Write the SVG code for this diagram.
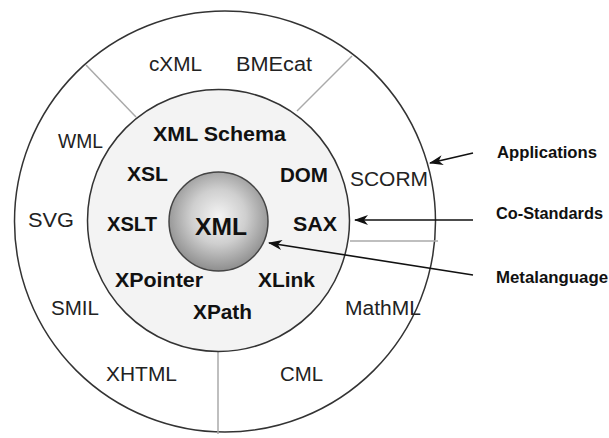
<svg xmlns="http://www.w3.org/2000/svg" width="609" height="438" viewBox="0 0 609 438">
  <style>
    .ring { stroke: #333; stroke-width: 1.5; }
    .div { stroke: #aaa; stroke-width: 1.5; fill: none; }
    .arr { stroke: #111; stroke-width: 1.6; fill: none; marker-end: url(#ah); }
    .reg { font-family: "Liberation Sans", Arial, sans-serif; font-size: 20px; fill: #222; }
    .bold { font-family: "Liberation Sans", Arial, sans-serif; font-size: 20px; font-weight: bold; fill: #111; }
    .lbl { font-family: "Liberation Sans", Arial, sans-serif; font-size: 16px; font-weight: bold; fill: #111; }
  </style>
  <defs>
    <radialGradient id="core" cx="50%" cy="45%" r="55%">
      <stop offset="0" stop-color="#f4f4f4"/>
      <stop offset="0.5" stop-color="#cfcfcf"/>
      <stop offset="1" stop-color="#8e8e8e"/>
    </radialGradient>
    <marker id="ah" viewBox="0 0 14 10" refX="13" refY="5" markerWidth="14" markerHeight="10" markerUnits="userSpaceOnUse" orient="auto">
      <path d="M0,0 L14,5 L0,10 L4,5 z" fill="#111"/>
    </marker>
  </defs>
  <rect width="609" height="438" fill="#fff"/>

  <g id="applications-ring">
    <circle class="ring" cx="225" cy="221.5" r="210.5" fill="#fff"/>
  </g>
  <g id="dividers">
    <line class="div" x1="86" y1="65" x2="136" y2="117"/>
    <line class="div" x1="352" y1="56" x2="297" y2="111"/>
    <line class="div" x1="350" y1="241" x2="438" y2="241"/>
    <line class="div" x1="218" y1="352" x2="218" y2="434"/>
  </g>
  <g id="costandards-ring">
    <circle class="ring" cx="218.5" cy="220.5" r="131" fill="#f3f3f3"/>
  </g>
  <g id="xml-core">
    <circle cx="218.5" cy="221.5" r="49.5" fill="url(#core)" stroke="#444" stroke-width="1.5"/>
    <text class="bold" x="195" y="235" style="font-size:24px" textLength="52" lengthAdjust="spacingAndGlyphs">XML</text>
  </g>

  <g id="applications">
    <text class="reg" x="149" y="71" textLength="53" lengthAdjust="spacingAndGlyphs">cXML</text>
    <text class="reg" x="236" y="71" textLength="76" lengthAdjust="spacingAndGlyphs">BMEcat</text>
    <text class="reg" x="58" y="148" textLength="45" lengthAdjust="spacingAndGlyphs">WML</text>
    <text class="reg" x="350" y="186" textLength="78" lengthAdjust="spacingAndGlyphs">SCORM</text>
    <text class="reg" x="28" y="227" textLength="46" lengthAdjust="spacingAndGlyphs">SVG</text>
    <text class="reg" x="51" y="315" textLength="48" lengthAdjust="spacingAndGlyphs">SMIL</text>
    <text class="reg" x="345" y="315" textLength="76" lengthAdjust="spacingAndGlyphs">MathML</text>
    <text class="reg" x="106" y="381" textLength="71" lengthAdjust="spacingAndGlyphs">XHTML</text>
    <text class="reg" x="280" y="381" textLength="43" lengthAdjust="spacingAndGlyphs">CML</text>
  </g>

  <g id="costandards">
    <text class="bold" x="153" y="141" textLength="133" lengthAdjust="spacingAndGlyphs">XML Schema</text>
    <text class="bold" x="127" y="181" textLength="41" lengthAdjust="spacingAndGlyphs">XSL</text>
    <text class="bold" x="280" y="182" textLength="48" lengthAdjust="spacingAndGlyphs">DOM</text>
    <text class="bold" x="107" y="231" textLength="50" lengthAdjust="spacingAndGlyphs">XSLT</text>
    <text class="bold" x="293" y="231" textLength="44" lengthAdjust="spacingAndGlyphs">SAX</text>
    <text class="bold" x="115" y="287" textLength="88" lengthAdjust="spacingAndGlyphs">XPointer</text>
    <text class="bold" x="258" y="287" textLength="57" lengthAdjust="spacingAndGlyphs">XLink</text>
    <text class="bold" x="193" y="319" textLength="59" lengthAdjust="spacingAndGlyphs">XPath</text>
  </g>

  <g id="connectors">
    <line class="arr" x1="473" y1="153" x2="430" y2="163"/>
    <line class="arr" x1="473" y1="220" x2="355" y2="220"/>
    <line class="arr" x1="473" y1="275" x2="269" y2="243"/>
  </g>

  <g id="legend">
    <text class="lbl" x="497" y="158" textLength="100" lengthAdjust="spacingAndGlyphs">Applications</text>
    <text class="lbl" x="496" y="219" textLength="107" lengthAdjust="spacingAndGlyphs">Co-Standards</text>
    <text class="lbl" x="496" y="283" textLength="112" lengthAdjust="spacingAndGlyphs">Metalanguage</text>
  </g>
</svg>
